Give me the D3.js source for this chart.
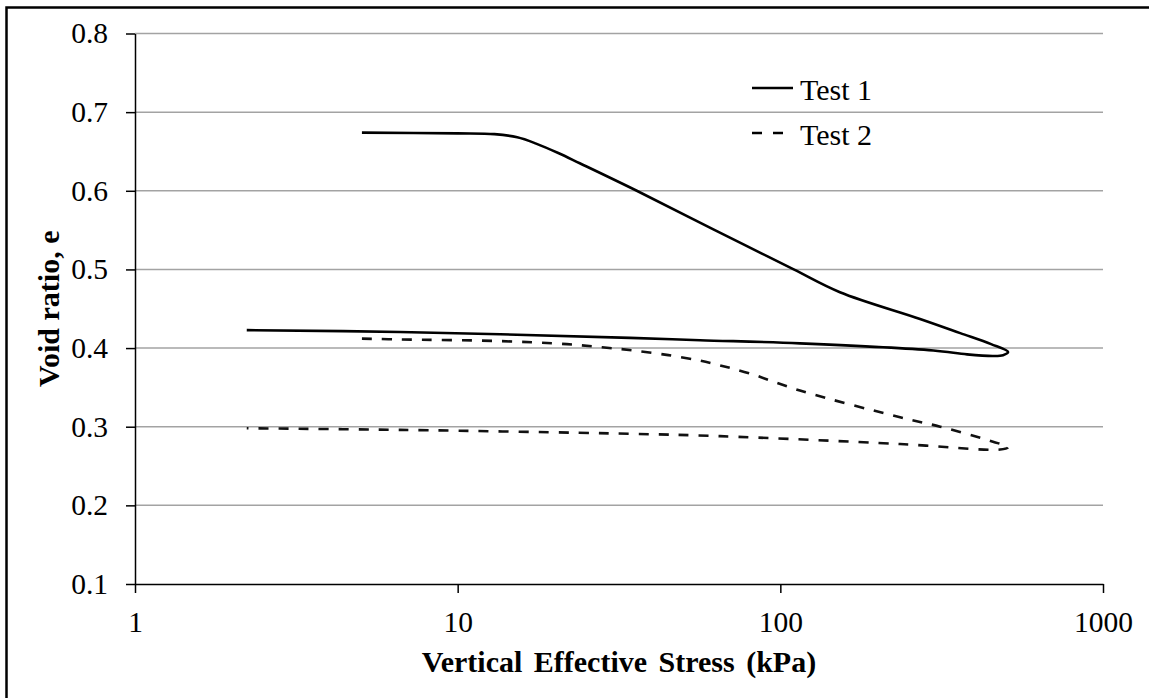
<!DOCTYPE html>
<html>
<head>
<meta charset="utf-8">
<script src="https://cdn.jsdelivr.net/npm/d3@7"></script>
<style>
  body { margin: 0; background: #fff; }
  text { font-family: "Liberation Serif", "Times New Roman", serif; fill: #000; }
</style>
</head>
<body>
<div id="chart"></div>
<script>
// Data: loading then unloading, in path order
var test1Stress = [5.05, 10, 13, 15.3, 17.5, 20.5, 23.9, 35.9, 62, 110, 153, 271, 361, 450, 508, 490, 457, 379, 298, 115, 56.4, 34.2, 6.63, 2.22];
var test1Void   = [0.674, 0.673, 0.672, 0.668, 0.660, 0.648, 0.635, 0.600, 0.551, 0.500, 0.471, 0.437, 0.419, 0.405, 0.395, 0.391, 0.390, 0.392, 0.397, 0.406, 0.410, 0.413, 0.4205, 0.4228];

var test2Stress = [5.05, 6.63, 13.2, 21.8, 28, 35, 45, 56.4, 65, 80, 115, 235, 313, 456, 508, 480, 235, 65, 34.2, 6.63, 2.22];
var test2Void   = [0.412, 0.411, 0.409, 0.405, 0.401, 0.397, 0.391, 0.384, 0.378, 0.368, 0.346, 0.312, 0.300, 0.281, 0.274, 0.271, 0.278, 0.288, 0.291, 0.296, 0.298];

var seriesNames = ["Test 1", "Test 2"];
var xTicks = [1, 10, 100, 1000];
var yTicks = [0.1, 0.2, 0.3, 0.4, 0.5, 0.6, 0.7, 0.8];

// Chart size
var svgWidth = 1149;
var svgHeight = 698;

var margin = { top: 33.5, right: 46, bottom: 114, left: 135 };
var width = svgWidth - margin.left - margin.right;
var height = svgHeight - margin.top - margin.bottom;

var serif = "Liberation Serif, Times New Roman, serif";

var svg = d3.select("#chart")
  .append("svg")
  .attr("width", svgWidth)
  .attr("height", svgHeight);

// outer frame (only top and left edges show in the picture)
svg.append("path")
  .attr("d", "M6.5,698V7.5H1149")
  .attr("fill", "none")
  .attr("stroke", "#000")
  .attr("stroke-width", 2.5);

var chartGroup = svg.append("g")
  .attr("transform", `translate(${margin.left}, ${margin.top})`);

// scales
var xScale = d3.scaleLog().domain([1, 1000]).range([0, width]);
var yScale = d3.scaleLinear().domain([0.1, 0.8]).range([height, 0]);

// horizontal gridlines
chartGroup.append("g")
  .selectAll("line")
  .data(yTicks.slice(1))
  .enter()
  .append("line")
  .attr("x1", 0)
  .attr("x2", width)
  .attr("y1", d => yScale(d))
  .attr("y2", d => yScale(d))
  .attr("stroke", "#a3a3a3")
  .attr("stroke-width", 1.5);

// axes
var leftAxis = d3.axisLeft(yScale)
  .tickValues(yTicks)
  .tickFormat(d3.format(".1f"))
  .tickSize(9)
  .tickSizeOuter(0)
  .tickPadding(18);

var bottomAxis = d3.axisBottom(xScale)
  .tickValues(xTicks)
  .tickFormat(d3.format("d"))
  .tickSize(9)
  .tickSizeOuter(0)
  .tickPadding(18);

var yAxisG = chartGroup.append("g").call(leftAxis);
var xAxisG = chartGroup.append("g")
  .attr("transform", `translate(0, ${height})`)
  .call(bottomAxis);

[yAxisG, xAxisG].forEach(function(g) {
  g.attr("font-family", serif).attr("font-size", 29.5);
  g.selectAll("path, line").attr("stroke", "#000").attr("stroke-width", 1.5);
  g.selectAll("text")
    .attr("font-family", serif)
    .style("font-family", serif)
    .style("font-size", "29.5px")
    .attr("fill", "#000");
});

// curves
var line = d3.line()
  .x(d => xScale(d[0]))
  .y(d => yScale(d[1]))
  .curve(d3.curveCatmullRom.alpha(0.5));

var test1 = test1Stress.map((s, i) => [s, test1Void[i]]);
var test2 = test2Stress.map((s, i) => [s, test2Void[i]]);

chartGroup.append("path")
  .datum(test1)
  .attr("d", line)
  .attr("fill", "none")
  .attr("stroke", "#000")
  .attr("stroke-width", 2.6);

chartGroup.append("path")
  .datum(test2)
  .attr("d", line)
  .attr("fill", "none")
  .attr("stroke", "#111")
  .attr("stroke-width", 2.6)
  .attr("stroke-dasharray", "10,10");

// legend
var legend = svg.append("g");
var dashes = [null, "10,11"];
seriesNames.forEach(function(name, i) {
  var ly = 88 + i * 45;
  legend.append("line")
    .attr("x1", 752)
    .attr("x2", i === 0 ? 793 : 783)
    .attr("y1", ly)
    .attr("y2", ly)
    .attr("stroke", "#000")
    .attr("stroke-width", 2.6)
    .attr("stroke-dasharray", dashes[i]);
  legend.append("text")
    .attr("x", 800)
    .attr("y", ly + 12)
    .style("font-size", "30px")
    .text(name);
});

// axis titles
svg.append("text")
  .attr("x", margin.left + width / 2)
  .attr("y", 672)
  .attr("text-anchor", "middle")
  .style("font-size", "30px")
  .style("font-weight", "bold")
  .style("word-spacing", "4px")
  .text("Vertical Effective Stress (kPa)");

svg.append("text")
  .attr("transform", `translate(59, ${margin.top + height / 2}) rotate(-90)`)
  .attr("text-anchor", "middle")
  .style("font-size", "30px")
  .style("font-weight", "bold")
  .text("Void ratio, e");
</script>
</body>
</html>
